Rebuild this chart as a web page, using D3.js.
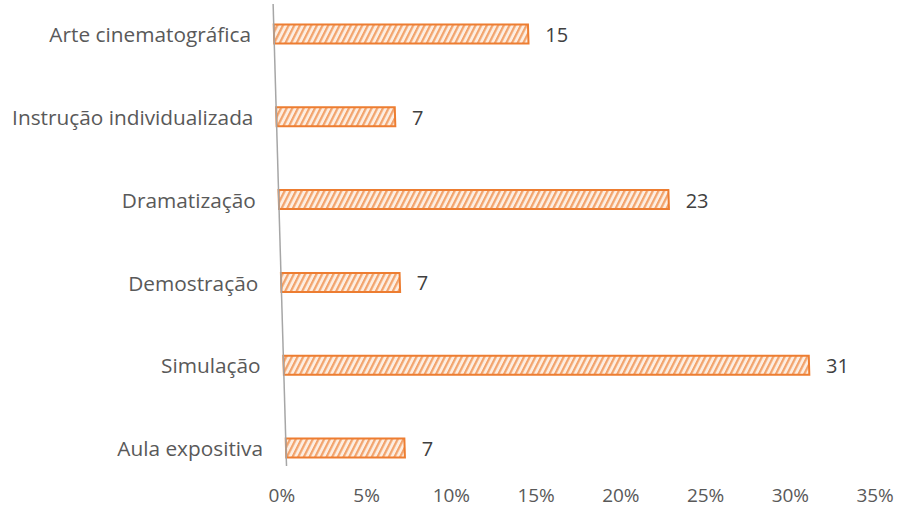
<!DOCTYPE html>
<html>
<head>
<meta charset="utf-8">
<script src="https://cdn.jsdelivr.net/npm/d3@7/dist/d3.min.js"></script>
<style>
  html, body { margin: 0; padding: 0; background: #fff; }
  svg { display: block; }
</style>
</head>
<body>
<script>
// Recursos didáticos utilizados (%)
const categories = ["Arte cinematográfica", "Instrução individualizada", "Dramatização", "Demostração", "Simulação", "Aula expositiva"];
const values = [15, 7, 23, 7, 31, 7];
const tickValues = [0, 5, 10, 15, 20, 25, 30, 35];

const W = 897, H = 512;
const x0 = 273;          // left edge of the value axis at y = 0
const pxPerUnit = 16.95; // horizontal scale
const slant = 0.029;     // slight lean of the plot frame
const slantDeg = Math.atan(slant) * 180 / Math.PI;
const font = "'Open Sans', sans-serif";

const svg = d3.select("body").append("svg")
  .attr("width", W).attr("height", H);

// diagonal hatch fill for the bars
const defs = svg.append("defs");
const pat = defs.append("pattern")
  .attr("id", "hatch")
  .attr("patternUnits", "userSpaceOnUse")
  .attr("width", 5).attr("height", 8)
  .attr("patternTransform", "rotate(28)");
pat.append("rect").attr("width", 5).attr("height", 8).attr("fill", "#fdeee2");
pat.append("rect").attr("x", 0).attr("width", 2.2).attr("height", 8).attr("fill", "#f2a36c");

const x = d3.scaleLinear().domain([0, 35]).range([x0, x0 + 35 * pxPerUnit]);
const step = (447 - 33) / 5;
const y = d3.scaleBand().domain(categories)
  .range([34 - step / 2, 448 + step / 2])
  .paddingInner(0.77).paddingOuter(0.385);

// plot frame leaning slightly to the right
const plot = svg.append("g").attr("transform", `skewX(${slantDeg})`);

plot.selectAll("rect.bar")
  .data(categories)
  .join("rect")
  .attr("class", "bar")
  .attr("x", x(0))
  .attr("y", d => y(d))
  .attr("width", (d, i) => x(values[i]) - x(0))
  .attr("height", y.bandwidth())
  .attr("fill", "url(#hatch)")
  .attr("stroke", "#ed7d31")
  .attr("stroke-width", 2);

// vertical category axis line
plot.append("line")
  .attr("x1", x(0)).attr("x2", x(0))
  .attr("y1", 4).attr("y2", 466)
  .attr("stroke", "#a6a6a6").attr("stroke-width", 1.5);

// category labels
const yAxis = svg.append("g")
  .attr("transform", `translate(${x(0) - 23},0)`)
  .call(d3.axisLeft(y).tickSize(0).tickPadding(0));
yAxis.select(".domain").remove();
yAxis.selectAll(".tick")
  .attr("transform", d => {
    const cy = y(d) + y.bandwidth() / 2 + 1;
    return `translate(${slant * cy},${cy})`;
  });
yAxis.selectAll(".tick text")
  .attr("font-family", font).attr("font-size", 20.8)
  .attr("fill", "#595959").attr("dy", "0.35em");

// value labels
svg.selectAll("text.val")
  .data(categories)
  .join("text")
  .attr("class", "val")
  .attr("x", (d, i) => {
    const cy = y(d) + y.bandwidth() / 2;
    return x(values[i]) + slant * cy + 17;
  })
  .attr("y", d => y(d) + y.bandwidth() / 2 + 1)
  .attr("dy", "0.35em")
  .attr("font-family", font).attr("font-size", 20)
  .attr("fill", "#404040")
  .text((d, i) => values[i]);

// percentage axis
const tickY = 495;
const xAxis = svg.append("g")
  .attr("transform", `translate(${slant * tickY - 6},${tickY - 8})`)
  .call(d3.axisBottom(x).tickValues(tickValues).tickSize(0).tickPadding(0)
    .tickFormat(d => d + "%"));
xAxis.select(".domain").remove();
xAxis.selectAll(".tick text")
  .attr("font-family", font).attr("font-size", 19)
  .attr("fill", "#595959").attr("dy", "0.35em").attr("y", 8);
</script>
</body>
</html>
